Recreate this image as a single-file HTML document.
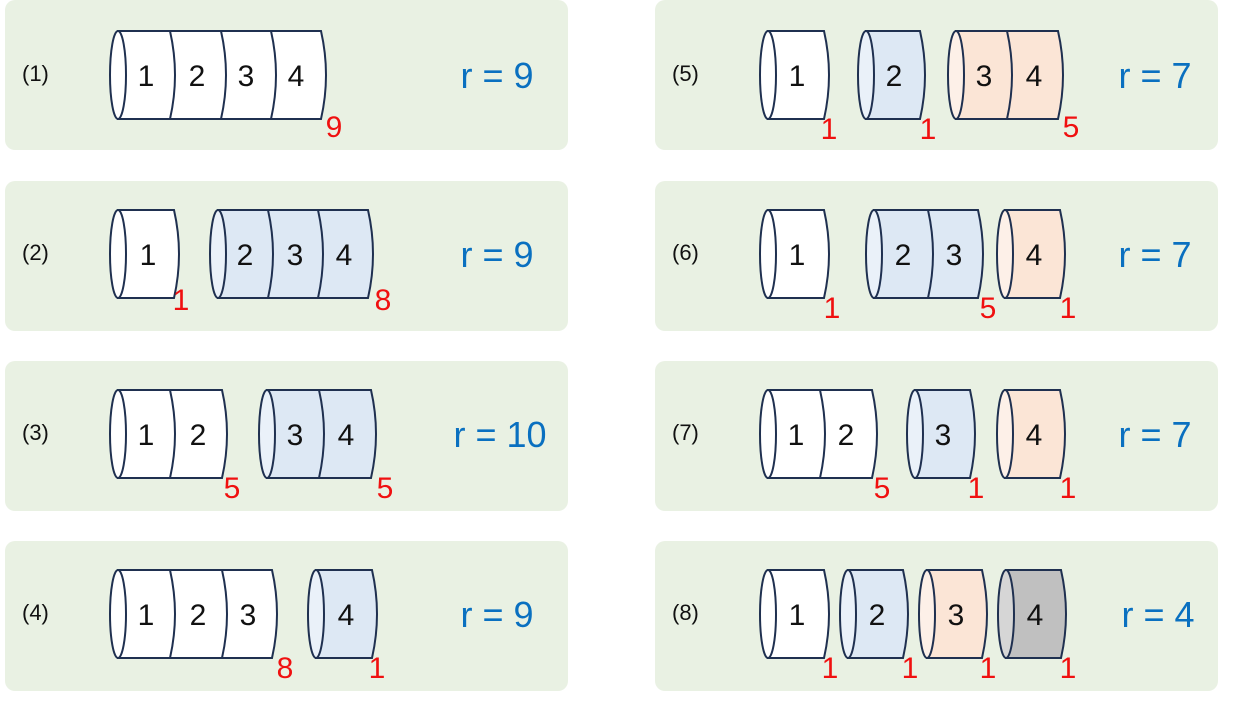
<!DOCTYPE html>
<html><head><meta charset="utf-8"><style>
html,body{margin:0;padding:0;background:#fff;}
svg{display:block;}
.p{fill:#e9f1e3;}
.s{stroke:#1f3050;stroke-width:2;}
.d{font-family:"Liberation Sans",sans-serif;font-size:30px;fill:#111;text-anchor:middle;}
.n{font-family:"Liberation Sans",sans-serif;font-size:30px;fill:#f01010;text-anchor:middle;}
.l{font-family:"Liberation Sans",sans-serif;font-size:22px;fill:#111;}
.r{font-family:"Liberation Sans",sans-serif;font-size:36px;fill:#0a70c0;text-anchor:middle;}
</style></head><body>
<svg width="1233" height="714" viewBox="0 0 1233 714" xmlns="http://www.w3.org/2000/svg">
<rect class="p" x="5" y="0" width="563" height="150" rx="10"/>
<rect class="p" x="5" y="181" width="563" height="150" rx="10"/>
<rect class="p" x="5" y="361" width="563" height="150" rx="10"/>
<rect class="p" x="5" y="541" width="563" height="150" rx="10"/>
<rect class="p" x="655" y="0" width="563" height="150" rx="10"/>
<rect class="p" x="655" y="181" width="563" height="150" rx="10"/>
<rect class="p" x="655" y="361" width="563" height="150" rx="10"/>
<rect class="p" x="655" y="541" width="563" height="150" rx="10"/>

<!-- Row 1 -->
<g>
<text class="l" x="22" y="81">(1)</text>
<path class="s" fill="#fff" d="M118,31 H321 Q331,75 321,119 H118 Z"/>
<ellipse class="s" fill="#fff" cx="118" cy="75" rx="8" ry="44"/>
<path class="s" fill="none" d="M170,31 Q180,75 170,119 M221,31 Q231,75 221,119 M271,31 Q281,75 271,119"/>
<text class="d" x="146" y="86">1</text><text class="d" x="197" y="86">2</text><text class="d" x="246" y="86">3</text><text class="d" x="296" y="86">4</text>
<text class="n" x="334" y="137">9</text>
<text class="r" x="497" y="88">r = 9</text>
</g>
<!-- Row 2 -->
<g transform="translate(0,179)">
<text class="l" x="22" y="81">(2)</text>
<path class="s" fill="#fff" d="M118,31 H174 Q184,75 174,119 H118 Z"/>
<ellipse class="s" fill="#fff" cx="118" cy="75" rx="8" ry="44"/>
<text class="d" x="148" y="86">1</text>
<text class="n" x="181" y="131">1</text>
<path class="s" fill="#dde8f4" d="M218,31 H368 Q378,75 368,119 H218 Z"/>
<ellipse class="s" fill="#eaf1f9" cx="218" cy="75" rx="8" ry="44"/>
<path class="s" fill="none" d="M268,31 Q278,75 268,119 M318,31 Q328,75 318,119"/>
<text class="d" x="245" y="86">2</text><text class="d" x="295" y="86">3</text><text class="d" x="344" y="86">4</text>
<text class="n" x="383" y="131">8</text>
<text class="r" x="497" y="88">r = 9</text>
</g>
<!-- Row 3 -->
<g transform="translate(0,359)">
<text class="l" x="22" y="81">(3)</text>
<path class="s" fill="#fff" d="M118,31 H222 Q232,75 222,119 H118 Z"/>
<ellipse class="s" fill="#fff" cx="118" cy="75" rx="8" ry="44"/>
<path class="s" fill="none" d="M170,31 Q180,75 170,119"/>
<text class="d" x="146" y="86">1</text><text class="d" x="198" y="86">2</text>
<text class="n" x="232" y="139">5</text>
<path class="s" fill="#dde8f4" d="M267,31 H371 Q381,75 371,119 H267 Z"/>
<ellipse class="s" fill="#eaf1f9" cx="267" cy="75" rx="8" ry="44"/>
<path class="s" fill="none" d="M319,31 Q329,75 319,119"/>
<text class="d" x="295" y="86">3</text><text class="d" x="346" y="86">4</text>
<text class="n" x="385" y="139">5</text>
<text class="r" x="500" y="88">r = 10</text>
</g>
<!-- Row 4 -->
<g transform="translate(0,539)">
<text class="l" x="22" y="81">(4)</text>
<path class="s" fill="#fff" d="M118,31 H272 Q282,75 272,119 H118 Z"/>
<ellipse class="s" fill="#fff" cx="118" cy="75" rx="8" ry="44"/>
<path class="s" fill="none" d="M170,31 Q180,75 170,119 M222,31 Q232,75 222,119"/>
<text class="d" x="146" y="86">1</text><text class="d" x="198" y="86">2</text><text class="d" x="248" y="86">3</text>
<text class="n" x="285" y="139">8</text>
<path class="s" fill="#dde8f4" d="M316,31 H372 Q382,75 372,119 H316 Z"/>
<ellipse class="s" fill="#eaf1f9" cx="316" cy="75" rx="8" ry="44"/>
<text class="d" x="346" y="86">4</text>
<text class="n" x="377" y="139">1</text>
<text class="r" x="497" y="88">r = 9</text>
</g>
<!-- Row 5 -->
<g>
<text class="l" x="672" y="81">(5)</text>
<path class="s" fill="#fff" d="M768,31 H824 Q834,75 824,119 H768 Z"/>
<ellipse class="s" fill="#fff" cx="768" cy="75" rx="8" ry="44"/>
<text class="d" x="797" y="86">1</text>
<text class="n" x="829" y="139">1</text>
<path class="s" fill="#dde8f4" d="M866,31 H920 Q930,75 920,119 H866 Z"/>
<ellipse class="s" fill="#eaf1f9" cx="866" cy="75" rx="8" ry="44"/>
<text class="d" x="894" y="86">2</text>
<text class="n" x="928" y="139">1</text>
<path class="s" fill="#fbe5d6" d="M956,31 H1058 Q1068,75 1058,119 H956 Z"/>
<ellipse class="s" fill="#fdf0e8" cx="956" cy="75" rx="8" ry="44"/>
<path class="s" fill="none" d="M1007,31 Q1017,75 1007,119"/>
<text class="d" x="984" y="86">3</text><text class="d" x="1034" y="86">4</text>
<text class="n" x="1071" y="137">5</text>
<text class="r" x="1155" y="88">r = 7</text>
</g>
<!-- Row 6 -->
<g transform="translate(0,179)">
<text class="l" x="672" y="81">(6)</text>
<path class="s" fill="#fff" d="M768,31 H824 Q834,75 824,119 H768 Z"/>
<ellipse class="s" fill="#fff" cx="768" cy="75" rx="8" ry="44"/>
<text class="d" x="797" y="86">1</text>
<text class="n" x="832" y="139">1</text>
<path class="s" fill="#dde8f4" d="M874,31 H978 Q988,75 978,119 H874 Z"/>
<ellipse class="s" fill="#eaf1f9" cx="874" cy="75" rx="8" ry="44"/>
<path class="s" fill="none" d="M928,31 Q938,75 928,119"/>
<text class="d" x="903" y="86">2</text><text class="d" x="954" y="86">3</text>
<text class="n" x="988" y="139">5</text>
<path class="s" fill="#fbe5d6" d="M1005,31 H1060 Q1070,75 1060,119 H1005 Z"/>
<ellipse class="s" fill="#fdf0e8" cx="1005" cy="75" rx="8" ry="44"/>
<text class="d" x="1034" y="86">4</text>
<text class="n" x="1068" y="139">1</text>
<text class="r" x="1155" y="88">r = 7</text>
</g>
<!-- Row 7 -->
<g transform="translate(0,359)">
<text class="l" x="672" y="81">(7)</text>
<path class="s" fill="#fff" d="M768,31 H872 Q882,75 872,119 H768 Z"/>
<ellipse class="s" fill="#fff" cx="768" cy="75" rx="8" ry="44"/>
<path class="s" fill="none" d="M820,31 Q830,75 820,119"/>
<text class="d" x="796" y="86">1</text><text class="d" x="846" y="86">2</text>
<text class="n" x="882" y="139">5</text>
<path class="s" fill="#dde8f4" d="M915,31 H970 Q980,75 970,119 H915 Z"/>
<ellipse class="s" fill="#eaf1f9" cx="915" cy="75" rx="8" ry="44"/>
<text class="d" x="943" y="86">3</text>
<text class="n" x="976" y="139">1</text>
<path class="s" fill="#fbe5d6" d="M1005,31 H1060 Q1070,75 1060,119 H1005 Z"/>
<ellipse class="s" fill="#fdf0e8" cx="1005" cy="75" rx="8" ry="44"/>
<text class="d" x="1034" y="86">4</text>
<text class="n" x="1068" y="139">1</text>
<text class="r" x="1155" y="88">r = 7</text>
</g>
<!-- Row 8 -->
<g transform="translate(0,539)">
<text class="l" x="672" y="81">(8)</text>
<path class="s" fill="#fff" d="M768,31 H824 Q834,75 824,119 H768 Z"/>
<ellipse class="s" fill="#fff" cx="768" cy="75" rx="8" ry="44"/>
<text class="d" x="797" y="86">1</text>
<text class="n" x="830" y="139">1</text>
<path class="s" fill="#dde8f4" d="M848,31 H903 Q913,75 903,119 H848 Z"/>
<ellipse class="s" fill="#eaf1f9" cx="848" cy="75" rx="8" ry="44"/>
<text class="d" x="877" y="86">2</text>
<text class="n" x="910" y="139">1</text>
<path class="s" fill="#fbe5d6" d="M927,31 H982 Q992,75 982,119 H927 Z"/>
<ellipse class="s" fill="#fdf0e8" cx="927" cy="75" rx="8" ry="44"/>
<text class="d" x="956" y="86">3</text>
<text class="n" x="988" y="139">1</text>
<path class="s" fill="#c0c0c0" d="M1006,31 H1061 Q1071,75 1061,119 H1006 Z"/>
<ellipse class="s" fill="#d6d6d6" cx="1006" cy="75" rx="8" ry="44"/>
<text class="d" x="1035" y="86">4</text>
<text class="n" x="1068" y="139">1</text>
<text class="r" x="1158" y="88">r = 4</text>
</g>
</svg>
</body></html>
